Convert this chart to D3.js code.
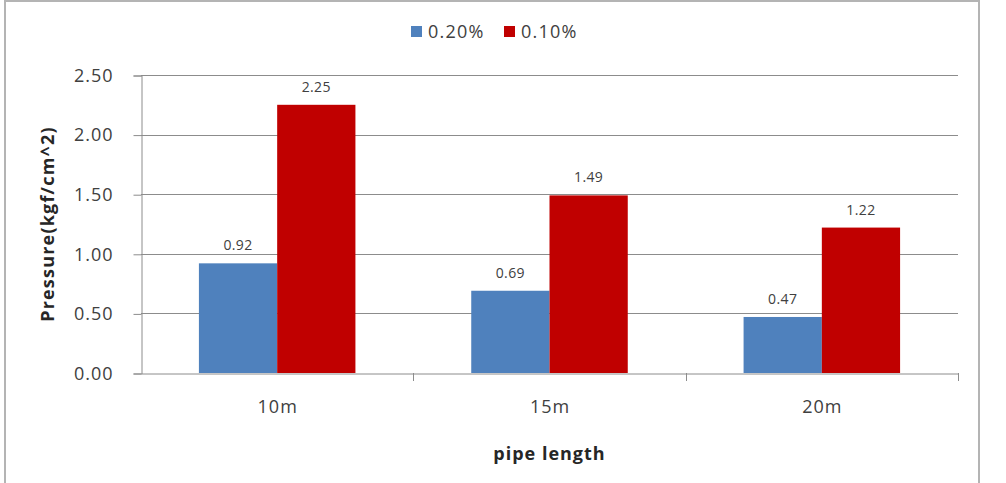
<!DOCTYPE html>
<html><head><meta charset="utf-8">
<script src="https://cdn.jsdelivr.net/npm/d3@7"></script>
<style>body{margin:0;background:#fff;} svg{display:block;}</style>
</head><body>
<svg id="c" width="1006" height="483"></svg>
<script>
const categories = ["10m", "15m", "20m"];
const seriesNames = ["0.20%", "0.10%"];
const series020 = [0.92, 0.69, 0.47];
const series010 = [2.25, 1.49, 1.22];
const yTicks = [0, 0.5, 1.0, 1.5, 2.0, 2.5];
const colors = ["#4F81BD", "#C00000"];

const svg = d3.select("#c");
const font = "'Open Sans', 'Noto Sans', sans-serif";
const m = {left: 141, right: 958, top: 75, bottom: 373};

// outer border
svg.append("rect").attr("x", 5).attr("y", 1).attr("width", 974).attr("height", 490)
  .attr("fill", "#fff").attr("stroke", "#b4b4b4").attr("stroke-width", 2);

const x = d3.scaleBand().domain(categories).range([m.left, m.right]).paddingInner(0).paddingOuter(0);
const y = d3.scaleLinear().domain([0, 2.5]).range([m.bottom, m.top]);
const x1 = d3.scaleBand().domain(seriesNames).range([0, x.bandwidth()]).paddingInner(0).paddingOuter(0.74);

// gridlines
svg.append("g").selectAll("line").data(yTicks.filter(d => d > 0)).join("line")
  .attr("x1", m.left).attr("x2", m.right)
  .attr("y1", d => Math.round(y(d)) + 0.5).attr("y2", d => Math.round(y(d)) + 0.5)
  .attr("stroke", "#8c8c8c").attr("stroke-width", 1);

// y axis
const ya = svg.append("g").attr("transform", `translate(${m.left + 0.5},0.5)`)
  .call(d3.axisLeft(y).tickValues(yTicks).tickFormat(d3.format(".2f")).tickSize(8).tickPadding(20));
ya.select(".domain").attr("stroke", "#8c8c8c");
ya.selectAll(".tick line").attr("stroke", "#8c8c8c");
ya.selectAll("text").attr("font-family", font).attr("font-size", 18).attr("letter-spacing", 1).attr("fill", "#404040");

// bars
const data = categories.map((c, i) => ({c, vals: [series020[i], series010[i]]}));
const groups = svg.append("g").selectAll("g").data(data).join("g")
  .attr("transform", d => `translate(${x(d.c)},0)`);
groups.selectAll("rect").data(d => d.vals.map((v, j) => ({v, s: seriesNames[j], j}))).join("rect")
  .attr("x", d => x1(d.s)).attr("width", x1.bandwidth())
  .attr("y", d => y(d.v)).attr("height", d => y(0) - y(d.v))
  .attr("fill", d => colors[d.j]);
groups.selectAll("text").data(d => d.vals.map((v, j) => ({v, s: seriesNames[j], j}))).join("text")
  .attr("x", d => x1(d.s) + x1.bandwidth() / 2).attr("y", d => y(d.v) - 13)
  .attr("text-anchor", "middle").attr("font-family", font).attr("font-size", 14)
  .attr("letter-spacing", 0.4).attr("fill", "#404040")
  .text(d => d3.format(".2f")(d.v));

// x axis
const xa = svg.append("g").attr("transform", `translate(0.5,${m.bottom + 0.5})`)
  .call(d3.axisBottom(x).tickSize(0).tickPadding(27));
xa.select(".domain").attr("stroke", "#8c8c8c");
xa.selectAll("text").attr("font-family", font).attr("font-size", 18).attr("letter-spacing", 1).attr("fill", "#404040");
svg.append("g").selectAll("line").data(categories.map((c) => x(c) + x.bandwidth())).join("line")
  .attr("x1", d => Math.round(d) + 0.5).attr("x2", d => Math.round(d) + 0.5)
  .attr("y1", m.bottom).attr("y2", m.bottom + 8).attr("stroke", "#8c8c8c");

// axis titles
svg.append("text").attr("x", (m.left + m.right) / 2).attr("y", 460).attr("text-anchor", "middle")
  .attr("font-family", font).attr("font-weight", "bold").attr("font-size", 18).attr("letter-spacing", 1)
  .attr("fill", "#262626").text("pipe length");
svg.append("text").attr("transform", `translate(54,${(m.top + m.bottom) / 2}) rotate(-90)`)
  .attr("text-anchor", "middle").attr("font-family", font).attr("font-weight", "bold")
  .attr("font-size", 18).attr("letter-spacing", 1.2).attr("fill", "#262626").text("Pressure(kgf/cm^2)");

// legend
const leg = svg.append("g");
const legX = [411, 504];
seriesNames.forEach((s, i) => {
  leg.append("rect").attr("x", legX[i]).attr("y", 26).attr("width", 11).attr("height", 11).attr("fill", colors[i]);
  leg.append("text").attr("x", legX[i] + 17).attr("y", 38).attr("font-family", font)
    .attr("font-size", 18).attr("letter-spacing", 1.2).attr("fill", "#404040").text(s);
});
</script>
</body></html>
